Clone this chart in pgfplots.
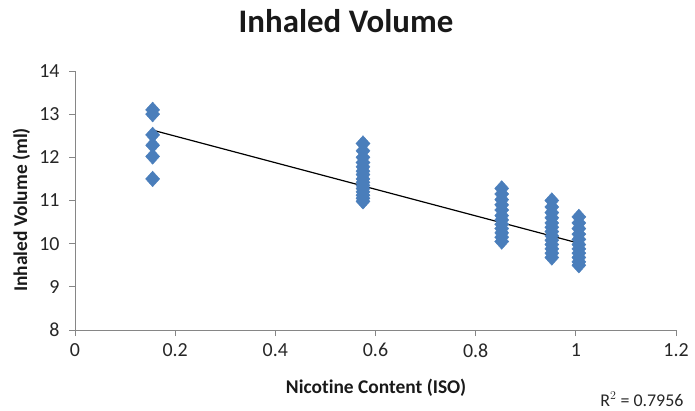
\documentclass[border=0pt]{standalone}
\usepackage{pgfplots}
\pgfplotsset{compat=1.18}
\usepackage{fontspec}
\setmainfont{Carlito}[Ligatures={NoCommon}]
\definecolor{markblue}{RGB}{74,126,187}
\definecolor{axisgray}{RGB}{134,134,134}
\begin{document}
\begin{tikzpicture}[x=1bp,y=1bp]
\path[use as bounding box] (0,0) rectangle (695,410);
\begin{axis}[
  at={(75bp,80bp)}, anchor=south west,
  scale only axis, width=601bp, height=259bp,
  xmin=0, xmax=1.2, ymin=8, ymax=14,
  xtick={0,0.2,0.4,0.6,0.8,1,1.2},
  ytick={8,9,10,11,12,13,14},
  xticklabels={0,0.2,0.4,0.6,0.8,1,1.2},
  axis x line*=bottom, axis y line*=left,
  axis line style={axisgray, line width=1bp},
  tick style={axisgray, line width=1bp},
  tick align=outside, major tick length=6bp,
  minor tick num=0,
  /pgf/number format/assume math mode=true,
  ticklabel style={font=\fontsize{20}{22}\selectfont, text=black!85},
  xticklabel style={yshift=-4bp},
  yticklabel style={xshift=-6bp},
  clip=false,
]
\addplot[only marks, mark=diamond*, mark size=7.8bp, color=markblue, mark options={fill=markblue, draw=markblue, xscale=1.2}] coordinates {
(0.155,13.10) (0.155,13.00) (0.155,12.52) (0.155,12.28) (0.155,12.02) (0.155,11.50)
(0.575,12.32) (0.575,12.15) (0.575,12.00) (0.575,11.88) (0.575,11.78) (0.575,11.68) (0.575,11.60) (0.575,11.50) (0.575,11.42) (0.575,11.35) (0.575,11.28) (0.575,11.20) (0.575,11.12) (0.575,11.05) (0.575,10.98)
(0.852,11.28) (0.852,11.15) (0.852,11.02) (0.852,10.90) (0.852,10.78) (0.852,10.65) (0.852,10.55) (0.852,10.45) (0.852,10.35) (0.852,10.25) (0.852,10.15) (0.852,10.05)
(0.952,11.00) (0.952,10.85) (0.952,10.72) (0.952,10.60) (0.952,10.48) (0.952,10.38) (0.952,10.28) (0.952,10.18) (0.952,10.08) (0.952,9.98) (0.952,9.88) (0.952,9.78) (0.952,9.68)
(1.006,10.62) (1.006,10.48) (1.006,10.35) (1.006,10.22) (1.006,10.10) (1.006,9.98) (1.006,9.88) (1.006,9.78) (1.006,9.68) (1.006,9.58) (1.006,9.50)
};
\addplot[black, line width=1.2bp] coordinates {(0.155,12.63) (1.006,10.01)};
\end{axis}
\node[anchor=base, font=\fontsize{33}{36}\bfseries\selectfont, text=black!90] at (346,378) {Inhaled Volume};
\node[anchor=base, font=\fontsize{19.5}{22}\bfseries\selectfont, text=black!90] at (376,17) {Nicotine Content (ISO)};
\node[anchor=base, rotate=90, font=\fontsize{19.5}{22}\bfseries\selectfont, text=black!90] at (27,200) {Inhaled Volume (ml)};
\node[anchor=base east, font=\fontsize{18}{20}\selectfont, text=black!85] at (687,4) {R$^2$ = 0.7956};
\end{tikzpicture}
\end{document}
